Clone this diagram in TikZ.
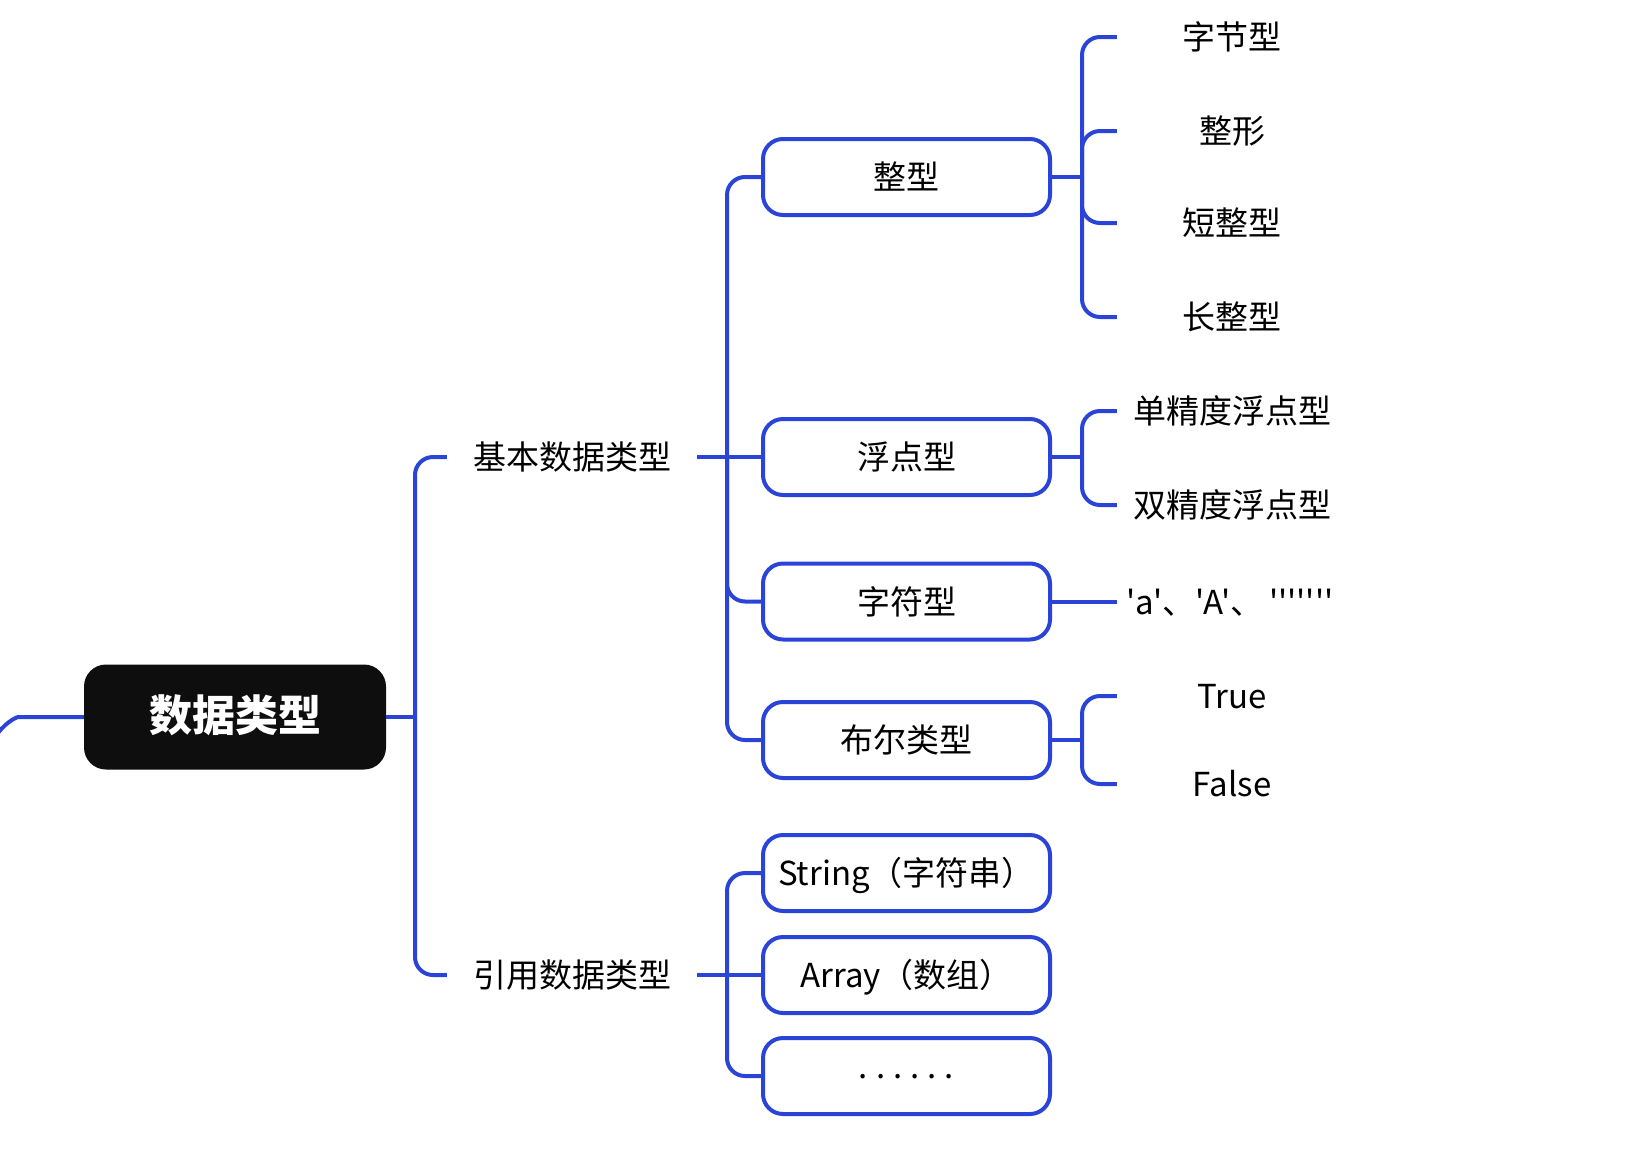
\documentclass[tikz,border=0pt]{standalone}
\usepackage{fontspec}
\newfontfamily\cjk{Noto Sans CJK SC}
\definecolor{branch}{RGB}{42,68,216}
\definecolor{rootfill}{RGB}{14,14,14}

\begin{document}
\begin{tikzpicture}[x=1pt,y=-1pt,
  conn/.style={draw=branch, line width=4pt, rounded corners=18pt},
  rootbox/.style={fill=rootfill, rounded corners=22pt, minimum width=302pt,
    minimum height=105pt, inner sep=0pt, text=white,
    font=\cjk\fontsize{43}{50}\selectfont\bfseries, text height=36pt, text depth=7pt},
  typebox/.style={draw=branch, line width=4pt, fill=white, rounded corners=20pt,
    minimum width=287pt, minimum height=76pt, inner sep=0pt,
    font=\cjk\fontsize{33}{40}\selectfont, text height=29pt, text depth=4pt},
  group/.style={minimum width=250pt, inner sep=0pt,
    font=\cjk\fontsize{33}{40}\selectfont, text height=29pt, text depth=4pt},
  leaf/.style={minimum width=230pt, inner sep=0pt,
    font=\cjk\fontsize{33}{40}\selectfont, text height=29pt, text depth=4pt},
]
\useasboundingbox (0,0) rectangle (1639,1157);

% root
\node[rootbox] (root) at (235,717) {数据类型};

% first level
\node[group] (basic) at (572,457) {基本数据类型};
\node[group] (ref) at (572,975) {引用数据类型};

% second level
\node[typebox] (int) at (906.5,177) {整型};
\node[typebox] (flt) at (906.5,457) {浮点型};
\node[typebox] (chr) at (906.5,601.5) {字符型};
\node[typebox] (bool) at (906.5,740) {布尔类型};
\node[typebox] (str) at (906.5,873) {String（字符串）};
\node[typebox] (arr) at (906.5,975) {Array（数组）};
\node[typebox] (etc) at (906.5,1076) {\raisebox{10pt}{.\kern8pt.\kern8pt.\kern8pt.\kern8pt.\kern8pt.}};

% leaves
\node[leaf] (byte) at (1232,37) {字节型};
\node[leaf] (intg) at (1232,131) {整形};
\node[leaf] (short) at (1232,223) {短整型};
\node[leaf] (long) at (1232,317) {长整型};
\node[leaf] (single) at (1232,411) {单精度浮点型};
\node[leaf] (double) at (1232,505) {双精度浮点型};
\node[leaf, text width=212pt, align=left, inner xsep=9pt, minimum width=0pt] (chars) at (1232,601.5) {'a'、'A'、\kern6pt'''''''};
\node[leaf] (true) at (1232,696) {True};
\node[leaf] (false) at (1232,784) {False};

% joints
\coordinate (tail) at (-2,733);
\coordinate (j0) at (415,717);
\coordinate (j1) at (727,457);
\coordinate (j2) at (727,975);
\coordinate (j3) at (1082,177);
\coordinate (j4) at (1082,457);
\coordinate (j5) at (1082,740);

% connectors
\draw[conn] (tail) .. controls (8,720) and (18,717) .. (36,717) -- (root.west);
\draw[conn] (root.east) -- (j0);
\draw[conn] (j0) |- (basic.west);
\draw[conn] (j0) |- (ref.west);

\draw[conn] (basic.east) -- (j1);
\draw[conn] (j1) |- (int.west);
\draw[conn] (j1) -- (flt.west);
\draw[conn] (j1) |- (chr.west);
\draw[conn] (j1) |- (bool.west);

\draw[conn] (ref.east) -- (j2);
\draw[conn] (j2) |- (str.west);
\draw[conn] (j2) -- (arr.west);
\draw[conn] (j2) |- (etc.west);

\draw[conn] (int.east) -- (j3);
\draw[conn] (j3) |- (byte.west);
\draw[conn] (j3) |- (intg.west);
\draw[conn] (j3) |- (short.west);
\draw[conn] (j3) |- (long.west);

\draw[conn] (flt.east) -- (j4);
\draw[conn] (j4) |- (single.west);
\draw[conn] (j4) |- (double.west);

\draw[conn] (chr.east) -- (chars.west);

\draw[conn] (bool.east) -- (j5);
\draw[conn] (j5) |- (true.west);
\draw[conn] (j5) |- (false.west);
\end{tikzpicture}
\end{document}
